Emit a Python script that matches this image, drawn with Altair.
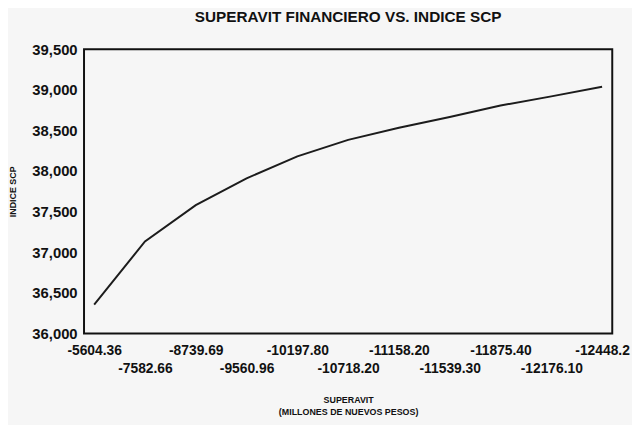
import json
import altair as alt
import pandas as pd

FONT = "Liberation Sans"

# Categories on the x axis (superávit, millones de nuevos pesos)
superavit = ["-5604.36", "-7582.66", "-8739.69", "-9560.96", "-10197.80",
             "-10718.20", "-11158.20", "-11539.30", "-11875.40", "-12176.10",
             "-12448.2"]
# Índice SCP
indice_scp = [36355, 37133, 37580, 37910, 38181, 38383, 38532, 38665,
              38806, 38919, 39036]
# Y axis ticks
y_ticks = [36000, 36500, 37000, 37500, 38000, 38500, 39000, 39500]

df = pd.DataFrame({"superavit": superavit, "indice": indice_scp})

label_expr = (
    f"indexof({json.dumps(superavit)}, datum.value) % 2 == 1 "
    "? ['', datum.label] : datum.label"
)

chart = alt.Chart(
    df,
    title=alt.Title(
        "SUPERAVIT FINANCIERO VS. INDICE SCP",
        font=FONT, fontSize=15.5, fontWeight="bold", color="#111111",
        anchor="middle", frame="group", offset=17,
    ),
).mark_line(color="#1c1c1c", strokeWidth=2).encode(
    x=alt.X(
        "superavit:N",
        sort=superavit,
        scale=alt.Scale(type="point", padding=0.2),
        axis=alt.Axis(
            labelExpr=label_expr,
            labelAngle=0,
            labelFont=FONT, labelFontSize=14, labelFontWeight="bold",
            labelColor="#111111",
            labelPadding=10, labelLineHeight=19, labelBaseline="top",
            labelOverlap=False, labelBound=False, labelFlush=False,
            ticks=False, domain=False,
            title=["SUPERAVIT", "(MILLONES DE NUEVOS PESOS)"],
            titleFont=FONT, titleFontSize=9, titleFontWeight="bold",
            titleColor="#111111", titleLineHeight=12,
            titleBaseline="top", titleY=63,
        ),
    ),
    y=alt.Y(
        "indice:Q",
        scale=alt.Scale(domain=[36000, 39500], nice=False, zero=False),
        axis=alt.Axis(
            values=y_ticks, format=",.0f",
            labelFont=FONT, labelFontSize=15, labelFontWeight="bold",
            labelColor="#111111", labelPadding=7, labelFlush=False,
            ticks=False, domain=False, grid=False,
            title="INDICE SCP",
            titleFont=FONT, titleFontSize=9, titleFontWeight="bold",
            titleColor="#111111", titleX=-72, titleY=144,
            titleAngle=-90, titleAlign="center", titleBaseline="middle",
        ),
    ),
).properties(
    width=535,
    height=288,
    autosize=alt.AutoSizeParams(type="none"),
    padding={"left": 77, "top": 39, "right": 20, "bottom": 90},
    background="#f6f6f6",
).configure_view(
    stroke="#111111", strokeWidth=2
)

chart.save("out.html", embed_options={"renderer": "svg", "actions": False})
